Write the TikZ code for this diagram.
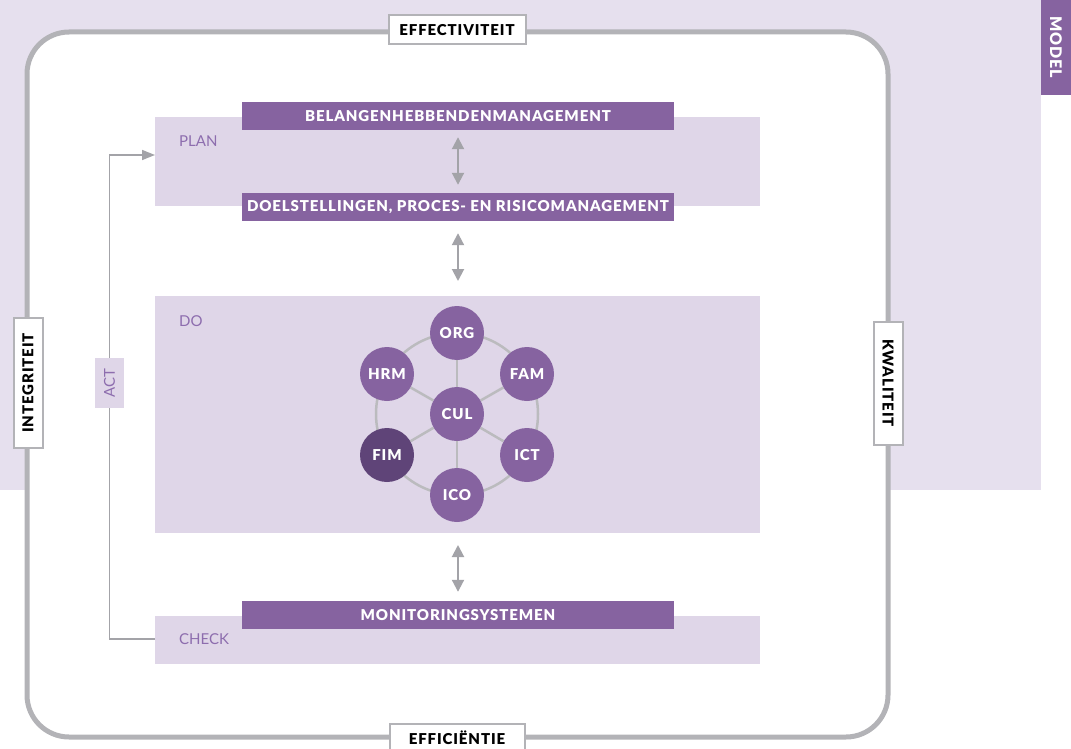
\documentclass[tikz,border=0pt]{standalone}
\usepackage{fontspec}
\setmainfont{Lato}
\newfontfamily\capsfont[LetterSpace=6]{Lato Black}
\usetikzlibrary{arrows.meta}
\definecolor{bgla}{HTML}{E6E0EE}
\definecolor{boxla}{HTML}{DFD6E8}
\definecolor{purp}{HTML}{8663A0}
\definecolor{dpurp}{HTML}{5F4478}
\definecolor{frame}{HTML}{B3B3B7}
\definecolor{agray}{HTML}{A3A3A8}
\definecolor{ltxt}{HTML}{8D6DAE}
\pgfdeclarelayer{panels}
\pgfdeclarelayer{links}
\pgfsetlayers{panels,links,main}
\tikzset{
  capsfnt/.style={font=\capsfont\fontsize{15}{17}\selectfont},
  bar/.style={fill=purp, text=white, capsfnt,
    minimum width=432pt, minimum height=28pt, inner sep=0pt},
  tag/.style={fill=white, draw=frame, line width=2pt, text=black,
    capsfnt, inner sep=0pt, minimum height=29pt},
  phaselbl/.style={text=ltxt, font=\fontsize{15}{17}\selectfont, anchor=west, inner sep=0pt},
  unit/.style={circle, fill=purp, minimum size=54pt, inner sep=0pt, text=white, capsfnt},
  link/.style={draw=frame!90, line width=2.5pt},
  dbl/.style={agray, line width=2pt, {Triangle[length=12pt,width=12pt]}-{Triangle[length=12pt,width=12pt]}},
}
\begin{document}
\begin{tikzpicture}[x=1pt,y=-1pt]
\useasboundingbox (0,0) rectangle (1071,749);
\begin{pgfonlayer}{panels}
% lavender backdrop and side tab
\fill[bgla] (0,0) rectangle (1041,490);
\fill[purp] (1041,0) rectangle (1071,95);
% outer rounded frame
\draw[frame, line width=5pt, fill=white, rounded corners=42pt] (27,32) rectangle (888,737);
% phase panels
\fill[boxla] (155,117) rectangle (760,206);
\fill[boxla] (155,296) rectangle (760,533);
\fill[boxla] (155,616) rectangle (760,664);
\end{pgfonlayer}
\node[text=white, font=\capsfont\fontsize{16}{18}\selectfont, rotate=-90] (model) at (1056,47) {MODEL};

\coordinate (planw) at (155,155);
\coordinate (checkw) at (155,639);
\node[phaselbl] (plan) at (179,141) {PLAN};
\node[phaselbl] (do) at (179,321) {DO};
\node[phaselbl] (check) at (179,639) {CHECK};

% purple banners
\node[bar] (bel) at (458,116) {BELANGENHEBBENDENMANAGEMENT};
\node[bar] (doel) at (458,207) {DOELSTELLINGEN, PROCES- EN RISICOMANAGEMENT};
\node[bar] (mon) at (458,615) {MONITORINGSYSTEMEN};
\coordinate (dotop) at (458,296);
\coordinate (dobot) at (458,533);

% vertical double arrows
\draw[dbl] ([yshift=-7]bel.south) -- ([yshift=8]doel.north);
\draw[dbl] ([yshift=-12]doel.south) -- ([yshift=15]dotop);
\draw[dbl] ([yshift=-12]dobot) -- ([yshift=9]mon.north);

% ACT feedback loop
\node[fill=boxla, minimum width=29pt, minimum height=50pt, inner sep=0pt] (act) at (109.5,383) {};
\draw[agray, line width=1.5pt] (checkw) -| (act.south);
\draw[agray, line width=1.5pt, -{Triangle[length=13pt,width=10pt]}] (act.north) |- (planw);
\node[rotate=90, text=ltxt, font=\fontsize{15}{17}\selectfont] (actlbl) at (act) {ACT};

% quality aspects on the frame
\node[tag, minimum width=137pt] (eff) at (457,30) {EFFECTIVITEIT};
\node[tag, minimum width=135pt] (effi) at (457,738) {EFFICIËNTIE};
\node[tag, minimum width=130pt, rotate=90] (integ) at (28,383) {INTEGRITEIT};
\node[tag, minimum width=123pt, rotate=-90] (kwal) at (888,383) {KWALITEIT};

% hexagon of units around the culture hub
\node[unit] (cul) at (457,414) {CUL};
\node[unit] (org) at (457,333) {ORG};
\node[unit] (ico) at (457,495) {ICO};
\node[unit] (hrm) at (387,374) {HRM};
\node[unit] (fam) at (527,374) {FAM};
\node[unit, fill=dpurp] (fim) at (387,455) {FIM};
\node[unit] (ict) at (527,455) {ICT};
\begin{pgfonlayer}{links}
\draw[link] (cul.center) circle (81pt);
\foreach \n in {org,ico,hrm,fam,fim,ict} \draw[link] (cul) -- (\n);
\end{pgfonlayer}
\end{tikzpicture}
\end{document}
